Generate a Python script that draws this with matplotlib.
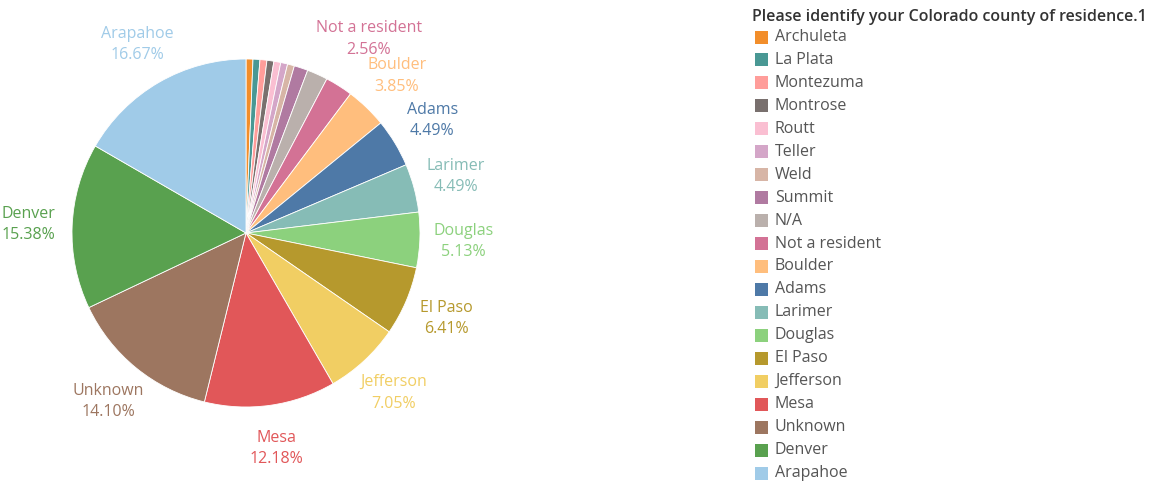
import numpy as np
import matplotlib
matplotlib.use("Agg")
import matplotlib.pyplot as plt
from matplotlib.patches import Rectangle

plt.rcParams['font.family'] = ['Open Sans', 'DejaVu Sans']

# counties in drawing order (clockwise from 12 o'clock), respondent counts
counties = ['Archuleta', 'La Plata', 'Montezuma', 'Montrose', 'Routt', 'Teller',
            'Weld', 'Summit', 'N/A', 'Not a resident', 'Boulder', 'Adams',
            'Larimer', 'Douglas', 'El Paso', 'Jefferson', 'Mesa', 'Unknown',
            'Denver', 'Arapahoe']
counts = [1, 1, 1, 1, 1, 1, 1, 2, 3, 4, 6, 7, 7, 8, 10, 11, 19, 22, 24, 26]
colors = ['#F28E2B', '#499894', '#FF9D9A', '#79706E', '#FABFD2', '#D4A6C8',
          '#D7B5A6', '#B07AA1', '#BAB0AC', '#D37295', '#FFBE7D', '#4E79A7',
          '#86BCB6', '#8CD17D', '#B6992D', '#F1CE63', '#E15759', '#9D7660',
          '#59A14F', '#A0CBE8']
legend_title = 'Please identify your Colorado county of residence.1'

W, H = 1151, 483
fig = plt.figure(figsize=(W / 100, H / 100), dpi=100)

cx, cy, half = 246, 233, 200
ax = fig.add_axes([(cx - half) / W, (H - cy - half) / H, 2 * half / W, 2 * half / H])
R = 174 / half
wedges, _ = ax.pie(counts, colors=colors, startangle=90, counterclock=False,
                   radius=R, wedgeprops=dict(linewidth=0.6, edgecolor='white'))
ax.set_xlim(-1, 1)
ax.set_ylim(-1, 1)
ax.set_aspect('equal')
ax.axis('off')

fs = 11.5
total = sum(counts)
renderer = fig.canvas.get_renderer()
placed = []
# go counter-clockwise so crowded small labels get pushed outward
for w, name, n, c in list(zip(wedges, counties, counts, colors))[::-1]:
    pct = 100 * n / total
    if pct < 2.5:
        continue
    th = np.deg2rad((w.theta1 + w.theta2) / 2)
    r = 1.25 * R
    t = ax.text(r * np.cos(th), r * np.sin(th), '%s\n%.2f%%' % (name, pct),
                ha='center', va='center', multialignment='center', color=c,
                fontsize=fs, linespacing=1.45)
    while True:
        bb = t.get_window_extent(renderer).expanded(1.0, 0.95)
        if not any(bb.overlaps(p) for p in placed):
            break
        r += 0.01
        t.set_position((r * np.cos(th), r * np.sin(th)))
    placed.append(bb)

# legend
fig.text(752 / W, 1 - 17 / H, legend_title, fontsize=fs, fontweight='semibold',
         color='#333333', ha='left', va='center')
for i, (name, c) in enumerate(zip(counties, colors)):
    y = 37 + i * 22.95
    fig.patches.append(Rectangle((755 / W, 1 - (y + 6.5) / H), 13 / W, 13 / H,
                                 facecolor=c, edgecolor='none',
                                 transform=fig.transFigure, figure=fig))
    fig.text(775 / W, 1 - y / H, name, fontsize=fs, color='#555555',
             ha='left', va='center')

fig.savefig('out.png', dpi=100)
